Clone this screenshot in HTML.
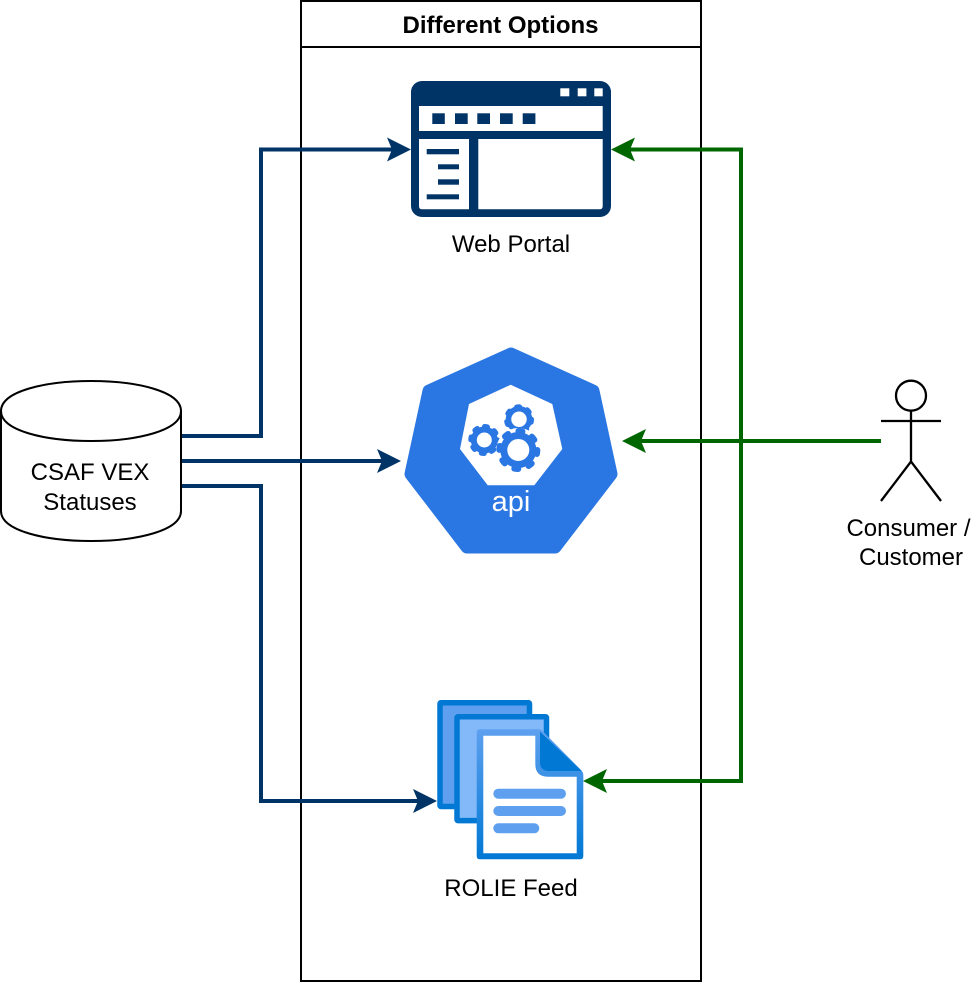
<!DOCTYPE html>
<html>
<head>
<meta charset="utf-8">
<style>
html,body{margin:0;padding:0;background:#fff}
svg{display:block}
text{font-family:"Liberation Sans",Arial,sans-serif;font-size:24px;fill:#000;text-anchor:middle}
</style>
</head>
<body>
<svg width="976" height="982" viewBox="0 0 976 982" xmlns="http://www.w3.org/2000/svg">
<defs>
<linearGradient id="g" x1="0" y1="0" x2="0" y2="1">
<stop offset="0" stop-color="#5ea0ef"/>
<stop offset="1" stop-color="#0078d4"/>
</linearGradient>
</defs>
<rect width="976" height="982" fill="#fff"/>

<!-- container -->
<rect x="301" y="1" width="400" height="980" fill="#fff" stroke="#000" stroke-width="2"/>
<line x1="301" y1="47" x2="701" y2="47" stroke="#000" stroke-width="2"/>
<text x="500.500" y="33" style="font-weight:bold">Different Options</text>

<!-- connectors navy -->
<g fill="none" stroke="#003366" stroke-width="4">
<path d="M181 436H261V149.500H392"/>
<path d="M181 461H382"/>
<path d="M181 486H261V801H418"/>
</g>
<g fill="#003366">
<polygon points="411,149.500 387,137.500 392,149.500 387,161.500"/>
<polygon points="401,461 377,449 382,461 377,473"/>
<polygon points="437,801 413,789 418,801 413,813"/>
</g>

<!-- connectors green -->
<g fill="none" stroke="#006600" stroke-width="4">
<path d="M630 149.500H741V781H602"/>
<path d="M881 441H640"/>
</g>
<g fill="#006600">
<polygon points="611,149.500 635,137.500 630,149.500 635,161.500"/>
<polygon points="622,441 646,429 641,441 646,453"/>
<polygon points="583,781 607,769 602,781 607,793"/>
</g>

<!-- browser icon -->
<rect x="411" y="81" width="200" height="136" rx="11" fill="#003366"/>
<g fill="#fff">
<rect x="560.300" y="88.300" width="9" height="8"/>
<rect x="577.700" y="88.300" width="8.700" height="8"/>
<rect x="594.300" y="88.300" width="8.400" height="8"/>
<rect x="419" y="106" width="183.700" height="25"/>
<path d="M419 139H469V209.300H422Q419 209.300 419 206.300Z"/>
<path d="M478.300 139H602.700V206.300Q602.700 209.300 599.700 209.300H478.300Z"/>
</g>
<g fill="#003366">
<rect x="432.300" y="113.300" width="12.500" height="10.700"/>
<rect x="455" y="113.300" width="12.700" height="10.700"/>
<rect x="477.300" y="113.300" width="12.700" height="10.700"/>
<rect x="500" y="113.300" width="12.700" height="10.700"/>
<rect x="522.700" y="113.300" width="12.700" height="10.700"/>
<rect x="426.700" y="149" width="32.300" height="5.300"/>
<rect x="438" y="164.300" width="21" height="5"/>
<rect x="438" y="179.300" width="21" height="5.400"/>
<rect x="426.700" y="194.300" width="32.300" height="5"/>
</g>
<text x="511" y="252">Web Portal</text>

<!-- api heptagon -->
<polygon points="511,354 593,391 611,474 555,547 467,547 411,474 429,391" fill="#2a76e2" stroke="#2a76e2" stroke-width="13" stroke-linejoin="round"/>
<polygon points="510.700,384.700 552.300,404 562.300,449 534.300,485.300 487.700,485.300 460,449 469,404" fill="#fff"/>

<!-- gears -->
<g fill="none" stroke="#2a76e2">
<circle cx="519" cy="419.300" r="10.500" stroke-width="5.500"/>
<circle cx="519" cy="419.300" r="12.500" stroke-width="5" stroke-linecap="round" stroke-dasharray="3 8.220"/>
<circle cx="484.300" cy="440" r="10.500" stroke-width="6"/>
<circle cx="484.300" cy="440" r="13.500" stroke-width="5" stroke-linecap="round" stroke-dasharray="3 7.600"/>
</g>
<circle cx="518.300" cy="450" r="22" fill="#fff"/>
<g fill="none" stroke="#2a76e2">
<circle cx="518.300" cy="450" r="14.500" stroke-width="7"/>
<circle cx="518.300" cy="450" r="19" stroke-width="6" stroke-linecap="round" stroke-dasharray="4 10.920"/>
</g>
<text x="511" y="511" style="font-size:29px;fill:#fff">api</text>

<!-- documents -->
<rect x="440" y="702.700" width="89.500" height="103.800" rx="1" fill="#5ea0ef" stroke="#0078d4" stroke-width="5.500"/>
<rect x="457" y="716.800" width="89.500" height="103.800" rx="1" fill="#83b9f9" stroke="#0078d4" stroke-width="5.500"/>
<path d="M479.700 729.300H538Q541 729.300 543 731.500L581 770Q583.300 772.300 583.300 775V856Q583.300 859.300 580 859.300H480Q476.700 859.300 476.700 856V732.600Q476.700 729.300 479.700 729.300Z" fill="url(#g)"/>
<path d="M483.300 735.700H535.300V764Q535.300 776.700 548 776.700H576.700V853.300H483.300Z" fill="#fff"/>
<path d="M540 731.700L581.700 771H549Q540 771 540 762Z" fill="#0078d4"/>
<g fill="#5ea0ef">
<rect x="493.300" y="788.700" width="72.700" height="10" rx="5"/>
<rect x="493.300" y="806" width="72.700" height="10" rx="5"/>
<rect x="493.300" y="823.300" width="46" height="10" rx="5"/>
</g>
<text x="511" y="896">ROLIE Feed</text>

<!-- cylinder -->
<path d="M1 411C1 371 181 371 181 411V511C181 551 1 551 1 511Z" fill="#fff" stroke="#000" stroke-width="2"/>
<path d="M1 411C1 451 181 451 181 411" fill="none" stroke="#000" stroke-width="2"/>
<text x="90" y="480">CSAF VEX</text>
<text x="90" y="510">Statuses</text>

<!-- actor -->
<g fill="none" stroke="#000" stroke-width="2.300">
<circle cx="911" cy="395.700" r="15"/>
<path d="M911 410.700V461.500M881 421H941M881 501L911 461.500L941 501"/>
</g>
<text x="908.500" y="536">Consumer /</text>
<text x="911" y="565">Customer</text>
</svg>
</body>
</html>
